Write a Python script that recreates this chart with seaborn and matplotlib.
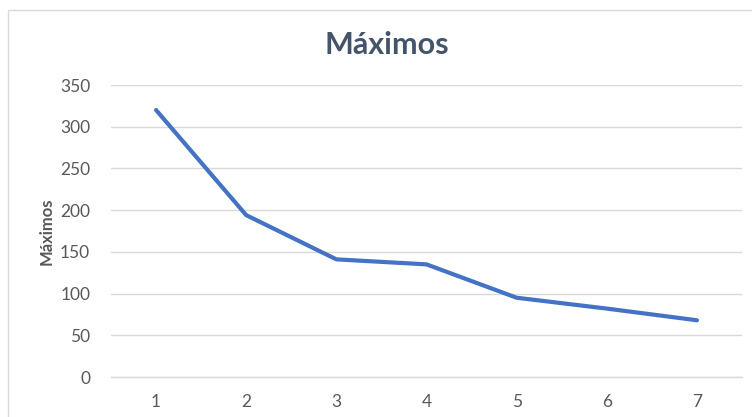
import matplotlib
matplotlib.use("Agg")
import matplotlib.pyplot as plt
import seaborn as sns
import pandas as pd
from matplotlib.patches import Rectangle

categorias = [1, 2, 3, 4, 5, 6, 7]
maximos = [320, 194, 141, 135, 95, 82, 68]
y_ticks = [0, 50, 100, 150, 200, 250, 300, 350]
titulo = "Máximos"
etiqueta_y = "Máximos"

sns.set_theme(style="white")
plt.rcParams['font.family'] = ['Lato', 'DejaVu Sans']

df = pd.DataFrame({"x": categorias, "y": maximos})

fig = plt.figure(figsize=(7.52, 4.17), dpi=100)
ax = fig.add_axes([111/752, 1-377/417, (742-111)/752, (377-85)/417])

sns.lineplot(data=df, x="x", y="y", ax=ax, color="#4472C4", linewidth=3.0,
             solid_capstyle="round", solid_joinstyle="round")

ax.set_xlim(0.5, 7.5)
ax.set_ylim(0, 350)
ax.set_yticks(y_ticks)
ax.set_xticks(categorias)
ax.set_xticks([c - 0.5 for c in categorias] + [categorias[-1] + 0.5], minor=True)
ax.grid(axis="y", color="#D9D9D9", linewidth=1)
ax.set_axisbelow(True)
for s in ["left", "right", "top"]:
    ax.spines[s].set_visible(False)
ax.spines["bottom"].set_color("#D9D9D9")
ax.spines["bottom"].set_linewidth(1)
ax.tick_params(axis="x", which="major", length=0, pad=12, labelsize=12.5, labelcolor="#595959")
ax.tick_params(axis="x", which="minor", length=5, width=1, color="#D9D9D9", direction="out")
ax.tick_params(axis="y", length=0, pad=15, labelsize=12.5, labelcolor="#595959")
ax.set_xlabel("")
ax.set_ylabel(etiqueta_y, fontsize=12, fontweight="bold", color="#595959", labelpad=4)

fig.text(0.515, 1-45/417, titulo, ha="center", va="center", fontsize=22,
         fontweight="bold", color="#44546A")

fig.patches.append(Rectangle((8/752, -0.1), 1.2, 1-10/417+0.1, transform=fig.transFigure,
                             fill=False, edgecolor="#D9D9D9", linewidth=1))

fig.savefig("out.png", dpi=100)
